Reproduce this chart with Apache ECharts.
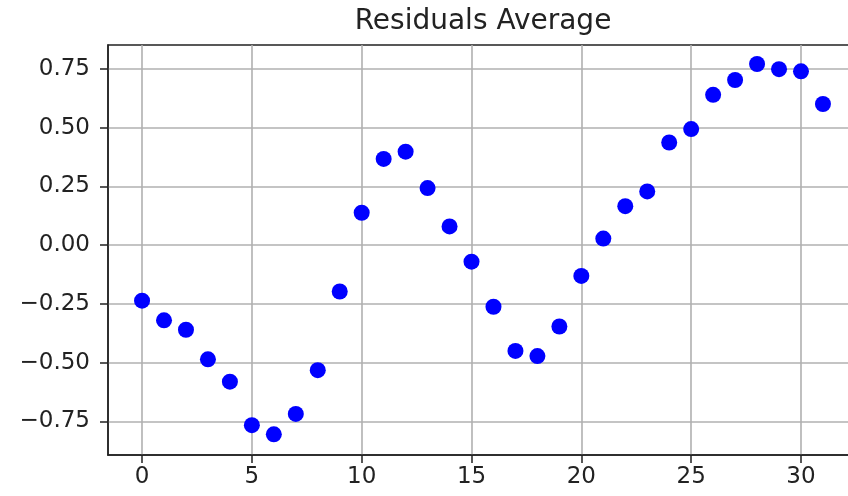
<!DOCTYPE html>
<html>
<head>
<meta charset="utf-8">
<script src="https://cdn.jsdelivr.net/npm/echarts@6/dist/echarts.min.js"></script>
<style>
html,body{margin:0;padding:0;background:#fff;}
#chart{width:848px;height:496px;}
</style>
</head>
<body>
<div id="chart"></div>
<script>
var titleText = 'Residuals Average';
var xValues = [0,1,2,3,4,5,6,7,8,9,10,11,12,13,14,15,16,17,18,19,20,21,22,23,24,25,26,27,28,29,30,31];
var residuals = [-0.236,-0.320,-0.360,-0.486,-0.581,-0.766,-0.805,-0.718,-0.532,-0.197,0.138,0.367,0.398,0.243,0.080,-0.070,-0.262,-0.450,-0.472,-0.346,-0.131,0.028,0.166,0.229,0.437,0.494,0.640,0.703,0.771,0.749,0.740,0.601];
var xTicks = [0,5,10,15,20,25,30];
var yTicks = [-0.75,-0.5,-0.25,0,0.25,0.5,0.75];

var chart = echarts.init(document.getElementById('chart'));
var fontFam = 'DejaVu Sans';
var seriesData = xValues.map(function(x,i){return [x,residuals[i]];});
chart.setOption({
  animation:false,
  backgroundColor:'#fff',
  title:{text:titleText,left:478,textAlign:'center',top:3,
    textStyle:{fontFamily:fontFam,fontSize:28,fontWeight:'normal',color:'#222'}},
  grid:{left:108,top:45,bottom:41,width:749,show:true,borderColor:'#222',borderWidth:1.5,
    containLabel:false,outerBoundsMode:'none'},
  xAxis:{type:'value',min:-1.55,max:32.55,
    axisLine:{show:true,onZero:false,lineStyle:{color:'#222',width:1.5}},
    axisTick:{show:true,length:8,lineStyle:{color:'#222',width:1.5},customValues:xTicks},
    axisLabel:{customValues:xTicks,margin:11,fontFamily:fontFam,fontSize:23,color:'#222'},
    splitLine:{show:true,lineStyle:{color:'#b0b0b0',width:1.6}}},
  yAxis:{type:'value',min:-0.893,max:0.852,
    axisLine:{show:true,onZero:false,lineStyle:{color:'#222',width:1.5}},
    axisTick:{show:true,length:8,lineStyle:{color:'#222',width:1.5},customValues:yTicks},
    axisLabel:{customValues:yTicks,margin:18,fontFamily:fontFam,fontSize:23,color:'#222',
      formatter:function(v){return (v<0?'\u2212':'')+Math.abs(v).toFixed(2);}},
    splitLine:{show:true,lineStyle:{color:'#b0b0b0',width:1.6}}},
  series:[{type:'scatter',data:seriesData,symbolSize:16,itemStyle:{color:'#0000ff',opacity:1}}]
});
</script>
</body>
</html>
